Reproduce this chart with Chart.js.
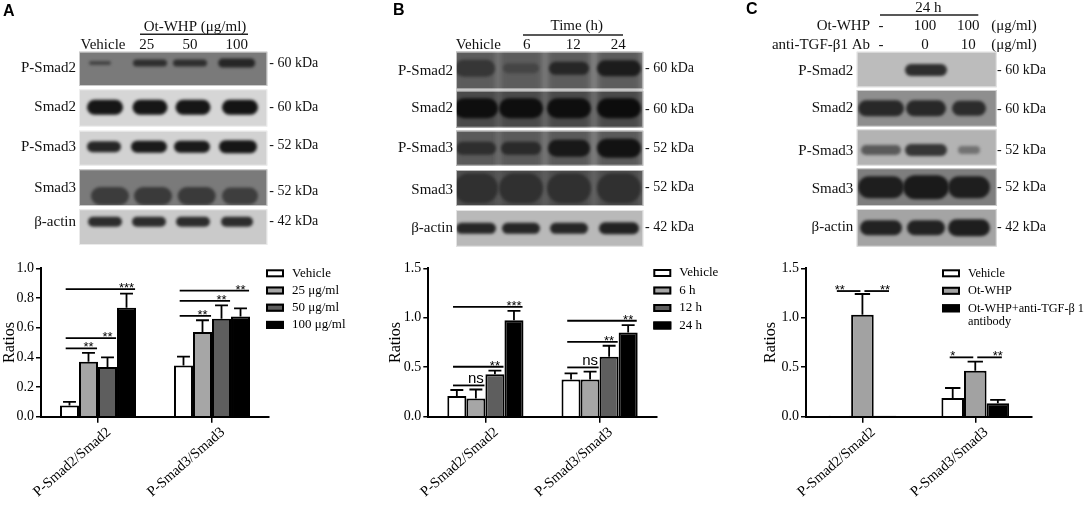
<!DOCTYPE html>
<html>
<head>
<meta charset="utf-8">
<script src="https://cdn.jsdelivr.net/npm/chart.js@4.4.0/dist/chart.umd.min.js"></script>
<style>
  html, body { margin: 0; padding: 0; background: #fff; }
  #page { position: relative; width: 1084px; height: 505px; overflow: hidden; }
  #blots { position: absolute; left: 0; top: 0; }
  .box { position: absolute; top: 255px; height: 250px; }
</style>
</head>
<body>
<div id="page">
  <canvas id="blots" width="1084" height="255"></canvas>
  <div class="box" style="left:0;width:360px"><canvas id="chartA"></canvas></div>
  <div class="box" style="left:386px;width:334px"><canvas id="chartB"></canvas></div>
  <div class="box" style="left:761px;width:323px"><canvas id="chartC"></canvas></div>
</div>
<script>
// ---- chart values ----
var groups = ['P-Smad2/Smad2', 'P-Smad3/Smad3'];

var seriesA = ['Vehicle', '25 μg/ml', '50 μg/ml', '100 μg/ml'];
var meanA = [[0.075, 0.345], [0.37, 0.57], [0.335, 0.66], [0.735, 0.675]];
var semA = [[0.025, 0.06], [0.06, 0.08], [0.065, 0.09], [0.095, 0.055]];
var sigA = [[0, 0, 1, 0.46, '**'], [0, 0, 2, 0.53, '**'], [0, 0, 3, 0.86, '***'],
            [1, 0, 1, 0.68, '**'], [1, 0, 2, 0.78, '**'], [1, 0, 3, 0.85, '**']];

var seriesB = ['Vehicle', '6 h', '12 h', '24 h'];
var meanB = [[0.21, 0.377], [0.185, 0.377], [0.43, 0.606], [0.975, 0.852]];
var semB = [[0.06, 0.06], [0.09, 0.078], [0.035, 0.111], [0.095, 0.074]];
var sigB = [[0, 0, 1, 0.316, 'ns'], [0, 0, 2, 0.505, '**'], [0, 0, 3, 1.11, '***'],
            [1, 0, 1, 0.498, 'ns'], [1, 0, 2, 0.757, '**'], [1, 0, 3, 0.97, '**']];

var seriesC = ['Vehicle', 'Ot-WHP', 'Ot-WHP+anti-TGF-β 1\nantibody'];
var meanC = [[0.01, 0.19], [1.03, 0.465], [0.01, 0.135]];
var semC = [[0, 0.1], [0.21, 0.091], [0, 0.035]];
var sigC = [[0, 0, 1, 1.27, '**', 0], [0, 1, 2, 1.27, '**', 2],
            [1, 0, 1, 0.6, '*', 0], [1, 1, 2, 0.6, '**', 2]];

var fillsAB = ['#ffffff', '#a6a6a6', '#5e5e5e', '#000000'];
var fillsC = ['#ffffff', '#a2a2a2', '#000000'];

var SERIF = '"Liberation Serif", "Times New Roman", serif';
var SANS = '"Liberation Sans", Arial, sans-serif';

// ---- western blot panels (decoration drawn on a plain canvas) ----
var blotRows = ['P-Smad2', 'Smad2', 'P-Smad3', 'Smad3', 'β-actin'];

// strip: top, bottom, background, band centre y, kDa text, kDa y, label y, lane shade
var stripsA = [
  [51.7, 86, '#7a7a7a', 63, '60 kDa', 63.3, 68.3],
  [89.3, 126.7, '#d6d6d6', 107.3, '60 kDa', 107.3, 107.3],
  [130.7, 165.7, '#d2d2d2', 146.7, '52 kDa', 145.7, 146.7],
  [169.3, 206, '#7a7a7a', 196, '52 kDa', 191.7, 188.3],
  [209.3, 245, '#cacaca', 221.7, '42 kDa', 221.7, 221.7]
];
// band: lane x, width, height, colour
var bandsA = [
  [[100, 22, 4, '#444'], [150, 34, 7, '#2e2e2e'], [190, 34, 7, '#2e2e2e'], [236.7, 37, 9, '#262626']],
  [[105, 36, 15, '#161616'], [150, 35, 15, '#161616'], [193, 35, 15, '#161616'], [240, 36, 15, '#141414']],
  [[104, 34, 11, '#262626'], [149, 36, 12, '#1a1a1a'], [192, 36, 12, '#1a1a1a'], [238, 38, 13, '#161616']],
  [[110, 38, 18, '#3c3c3c'], [153, 38, 18, '#3a3a3a'], [196.7, 38, 18, '#3a3a3a'], [240, 36, 17, '#3e3e3e']],
  [[105, 34, 10, '#2c2c2c'], [149, 34, 10, '#2c2c2c'], [193, 34, 10, '#2c2c2c'], [237, 32, 10, '#2c2c2c']]
];

var stripsB = [
  [51.7, 89.3, '#8c8c8c', 68.3, '60 kDa', 68.3, 70.7, '#5c5c5c'],
  [90.7, 127.7, '#7a7a7a', 108.3, '60 kDa', 109.3, 108.3, '#4a4a4a'],
  [130.7, 165.7, '#8a8a8a', 148.3, '52 kDa', 148.3, 148.3, '#5a5a5a'],
  [170, 206, '#6a6a6a', 188.3, '52 kDa', 187.7, 190, '#4e4e4e'],
  [210, 246.7, '#b9b9b9', 228.3, '42 kDa', 227.7, 228.3]
];
var bandsB = [
  [[475, 40, 17, '#363636'], [521, 36, 10, '#454545'], [569, 40, 13, '#262626'], [619, 44, 16, '#1c1c1c']],
  [[476, 44, 20, '#0e0e0e'], [521, 44, 20, '#0e0e0e'], [569, 44, 20, '#0e0e0e'], [619, 44, 20, '#0c0c0c']],
  [[476, 40, 13, '#2e2e2e'], [521, 40, 13, '#2a2a2a'], [569, 42, 17, '#181818'], [619, 44, 19, '#121212']],
  [[476, 44, 30, '#303030'], [521, 44, 30, '#303030'], [569, 44, 30, '#303030'], [619, 44, 30, '#303030']],
  [[476, 40, 11, '#262626'], [521, 38, 11, '#262626'], [569, 38, 11, '#262626'], [619, 40, 12, '#222']]
];

var stripsC = [
  [51.7, 87.3, '#bcbcbc', 70, '60 kDa', 70.7, 70.7],
  [90, 126.7, '#8e8e8e', 108.3, '60 kDa', 109.3, 108.3],
  [129.3, 165.7, '#b3b3b3', 150, '52 kDa', 150, 151],
  [168.3, 206, '#7e7e7e', 187.3, '52 kDa', 187.3, 189.3],
  [209, 246.7, '#a4a4a4', 227.7, '42 kDa', 227.7, 226.7]
];
var bandsC = [
  [[926, 42, 12, '#2e2e2e']],
  [[881, 46, 16, '#282828'], [926, 40, 16, '#282828'], [969, 34, 15, '#2c2c2c']],
  [[881, 40, 10, '#5a5a5a'], [926, 42, 12, '#363636'], [969, 22, 8, '#727272']],
  [[881, 46, 22, '#1e1e1e'], [926, 46, 24, '#1a1a1a'], [969, 42, 22, '#1e1e1e']],
  [[881, 42, 15, '#222'], [926, 38, 15, '#222'], [969, 42, 17, '#1e1e1e']]
];

function drawBlot(ctx, x0, x1, strips, bands, labelX, kdaX) {
  strips.forEach(function (s, i) {
    ctx.fillStyle = s[2];
    ctx.fillRect(x0, s[0], x1 - x0, s[1] - s[0]);
    ctx.save();
    ctx.beginPath();
    ctx.rect(x0, s[0], x1 - x0, s[1] - s[0]);
    ctx.clip();
    if (s[7]) {
      ctx.filter = 'blur(3px)';
      ctx.fillStyle = s[7];
      bands[i].forEach(function (b) {
        ctx.fillRect(b[0] - 22, s[0] - 6, 44, s[1] - s[0] + 12);
      });
    }
    ctx.filter = 'blur(1.6px)';
    bands[i].forEach(function (b) {
      var w = b[1], h = b[2];
      ctx.fillStyle = b[3];
      ctx.beginPath();
      ctx.roundRect(b[0] - w / 2, s[3] - h / 2, w, h, h / 2);
      ctx.fill();
    });
    ctx.restore();
    ctx.strokeStyle = 'rgba(255,255,255,0.6)';
    ctx.lineWidth = 1;
    ctx.strokeRect(x0 + 0.5, s[0] + 0.5, x1 - x0 - 1, s[1] - s[0] - 1);

    ctx.fillStyle = '#111';
    ctx.font = '15px ' + SERIF;
    ctx.textAlign = 'right';
    ctx.fillText(blotRows[i], labelX, s[6]);
    ctx.textAlign = 'left';
    ctx.font = '14px ' + SERIF;
    ctx.fillText('- ' + s[4], kdaX, s[5]);
  });
}

function text(ctx, t, x, y, align, font) {
  ctx.font = font || '15px ' + SERIF;
  ctx.textAlign = align || 'center';
  ctx.fillText(t, x, y);
}

function drawBlots() {
  var ctx = document.getElementById('blots').getContext('2d');
  ctx.textBaseline = 'middle';

  ctx.fillStyle = '#000';
  text(ctx, 'A', 3, 12, 'left', 'bold 16px ' + SANS);
  text(ctx, 'B', 393, 11, 'left', 'bold 16px ' + SANS);
  text(ctx, 'C', 746, 10, 'left', 'bold 16px ' + SANS);

  ctx.fillStyle = '#111';
  text(ctx, 'Ot-WHP (μg/ml)', 195, 27);
  text(ctx, 'Vehicle', 103, 45);
  text(ctx, '25', 146.7, 45);
  text(ctx, '50', 190, 45);
  text(ctx, '100', 236.7, 45);

  text(ctx, 'Time (h)', 576.7, 26);
  text(ctx, 'Vehicle', 478.3, 45);
  text(ctx, '6', 526.7, 45);
  text(ctx, '12', 573.3, 45);
  text(ctx, '24', 618.3, 45);

  text(ctx, '24 h', 928.3, 8);
  text(ctx, 'Ot-WHP', 870, 26, 'right');
  text(ctx, 'anti-TGF-β1 Ab', 870, 45, 'right');
  ['-', '100', '100'].forEach(function (t, i) { text(ctx, t, [881, 925, 968.3][i], 26); });
  ['-', '0', '10'].forEach(function (t, i) { text(ctx, t, [881, 925, 968.3][i], 45); });
  text(ctx, '(μg/ml)', 1014, 26);
  text(ctx, '(μg/ml)', 1014, 45);

  ctx.strokeStyle = '#222';
  ctx.lineWidth = 1.5;
  ctx.beginPath();
  ctx.moveTo(140, 34.3); ctx.lineTo(248, 34.3);
  ctx.moveTo(523, 35); ctx.lineTo(623, 35);
  ctx.moveTo(880, 15); ctx.lineTo(978.3, 15);
  ctx.stroke();

  drawBlot(ctx, 79, 267.3, stripsA, bandsA, 76, 269.3);
  drawBlot(ctx, 456, 643.3, stripsB, bandsB, 453, 645);
  drawBlot(ctx, 856.7, 996.7, stripsC, bandsC, 853.3, 997);
}

// ---- plugins: error bars + significance brackets, and the key ----
var marks = {
  id: 'marks',
  afterDatasetsDraw: function (chart, args, o) {
    var ctx = chart.ctx, y = chart.scales.y;
    ctx.save();
    ctx.strokeStyle = '#000';
    ctx.lineWidth = 1.8;
    chart.data.datasets.forEach(function (ds, i) {
      chart.getDatasetMeta(i).data.forEach(function (bar, j) {
        if (!o.sem[i][j]) return;
        var top = y.getPixelForValue(ds.data[j] + o.sem[i][j]);
        var cap = bar.width * 0.34;
        ctx.beginPath();
        ctx.moveTo(bar.x, bar.y);
        ctx.lineTo(bar.x, top);
        ctx.moveTo(bar.x - cap, top);
        ctx.lineTo(bar.x + cap, top);
        ctx.stroke();
      });
    });
    o.sig.forEach(function (s) {
      var a = chart.getDatasetMeta(s[1]).data[s[0]];
      var b = chart.getDatasetMeta(s[2]).data[s[0]];
      var py = y.getPixelForValue(s[3]);
      var x1, x2, tx;
      if (o.pair) {
        x1 = a.x + (s[5] === s[1] ? -3 : 2);
        x2 = b.x + (s[5] === s[2] ? 4 : -2);
        tx = chart.getDatasetMeta(s[5]).data[s[0]].x;
      } else {
        x1 = a.x - a.width * 0.2;
        x2 = b.x + b.width * 0.45;
        tx = b.x;
      }
      ctx.beginPath();
      ctx.moveTo(x1, py);
      ctx.lineTo(x2, py);
      ctx.stroke();
      ctx.fillStyle = '#000';
      ctx.textAlign = 'center';
      ctx.textBaseline = 'alphabetic';
      if (s[4] === 'ns') {
        ctx.font = '15px ' + SANS;
        ctx.fillText('ns', tx, py - 2);
      } else {
        ctx.font = '13px ' + SANS;
        ctx.fillText(s[4], tx, py + 3);
      }
    });
    ctx.restore();
  }
};

var key = {
  id: 'key',
  afterDraw: function (chart, args, o) {
    var ctx = chart.ctx, area = chart.chartArea;
    var x = area.left + o.dx, y0 = area.top + o.dy;
    ctx.save();
    ctx.font = o.size + 'px ' + SERIF;
    ctx.textBaseline = 'middle';
    ctx.textAlign = 'left';
    chart.data.datasets.forEach(function (ds, i) {
      var cy = y0 + i * o.step;
      ctx.fillStyle = ds.backgroundColor;
      ctx.fillRect(x, cy - 4, 18, 8);
      ctx.strokeStyle = '#000';
      ctx.lineWidth = 2;
      ctx.strokeRect(x + 1, cy - 3, 16, 6);
      ctx.fillStyle = '#000';
      ds.label.split('\n').forEach(function (t, k) {
        ctx.fillText(t, x + 26, cy + k * 13.5);
      });
    });
    ctx.restore();
  }
};

function makeChart(id, series, means, fills, catPct, yMax, yStep, yWidth, padRight, extra) {
  var datasets = series.map(function (name, i) {
    return {
      label: name,
      data: means[i],
      backgroundColor: fills[i],
      borderColor: '#000',
      borderWidth: 2,
      borderSkipped: 'bottom',
      barPercentage: 1.0,
      categoryPercentage: catPct
    };
  });
  return new Chart(document.getElementById(id), {
    type: 'bar',
    data: { labels: groups, datasets: datasets },
    plugins: [marks, key],
    options: {
      responsive: true,
      maintainAspectRatio: false,
      animation: false,
      layout: { padding: { left: 0, right: padRight, top: 13.3, bottom: 0 } },
      plugins: {
        legend: { display: false },
        tooltip: { enabled: false },
        marks: { sem: extra.sem, sig: extra.sig, pair: extra.pair },
        key: { dx: extra.keyDx, dy: extra.keyDy, step: extra.keyStep, size: extra.keySize }
      },
      scales: {
        x: {
          afterFit: function (s) { s.height = 88.3; },
          grid: { display: true, offset: false, drawOnChartArea: false, color: '#000', lineWidth: 1.5, tickLength: 6 },
          border: { display: true, color: '#000', width: 2 },
          ticks: {
            color: '#000',
            font: { family: SERIF, size: 14.5 },
            minRotation: 41,
            maxRotation: 41,
            padding: 1,
            labelOffset: 11
          }
        },
        y: {
          min: 0,
          max: yMax,
          afterFit: function (s) { s.width = yWidth; },
          grid: { display: true, drawOnChartArea: false, color: '#000', lineWidth: 1.5, tickLength: 5 },
          border: { display: true, color: '#000', width: 2 },
          ticks: {
            stepSize: yStep,
            padding: 2,
            color: '#000',
            font: { family: SERIF, size: 14 },
            callback: function (v) { return v.toFixed(1); }
          },
          title: {
            display: true,
            text: 'Ratios',
            color: '#000',
            padding: { top: 0, bottom: 0 },
            font: { family: SERIF, size: 16 }
          }
        }
      }
    }
  });
}

drawBlots();
makeChart('chartA', seriesA, meanA, fillsAB, 0.667, 1.0, 0.2, 41, 91,
  { sem: semA, sig: sigA, pair: false, keyDx: 225, keyDy: 5, keyStep: 17.2, keySize: 13 });
makeChart('chartB', seriesB, meanB, fillsAB, 0.667, 1.5, 0.5, 42.3, 63.3,
  { sem: semB, sig: sigB, pair: false, keyDx: 225, keyDy: 4.7, keyStep: 17.5, keySize: 13 });
makeChart('chartC', seriesC, meanC, fillsC, 0.6, 1.5, 0.5, 45, 52.3,
  { sem: semC, sig: sigC, pair: true, keyDx: 136, keyDy: 5, keyStep: 17.5, keySize: 12.3 });
</script>
</body>
</html>
